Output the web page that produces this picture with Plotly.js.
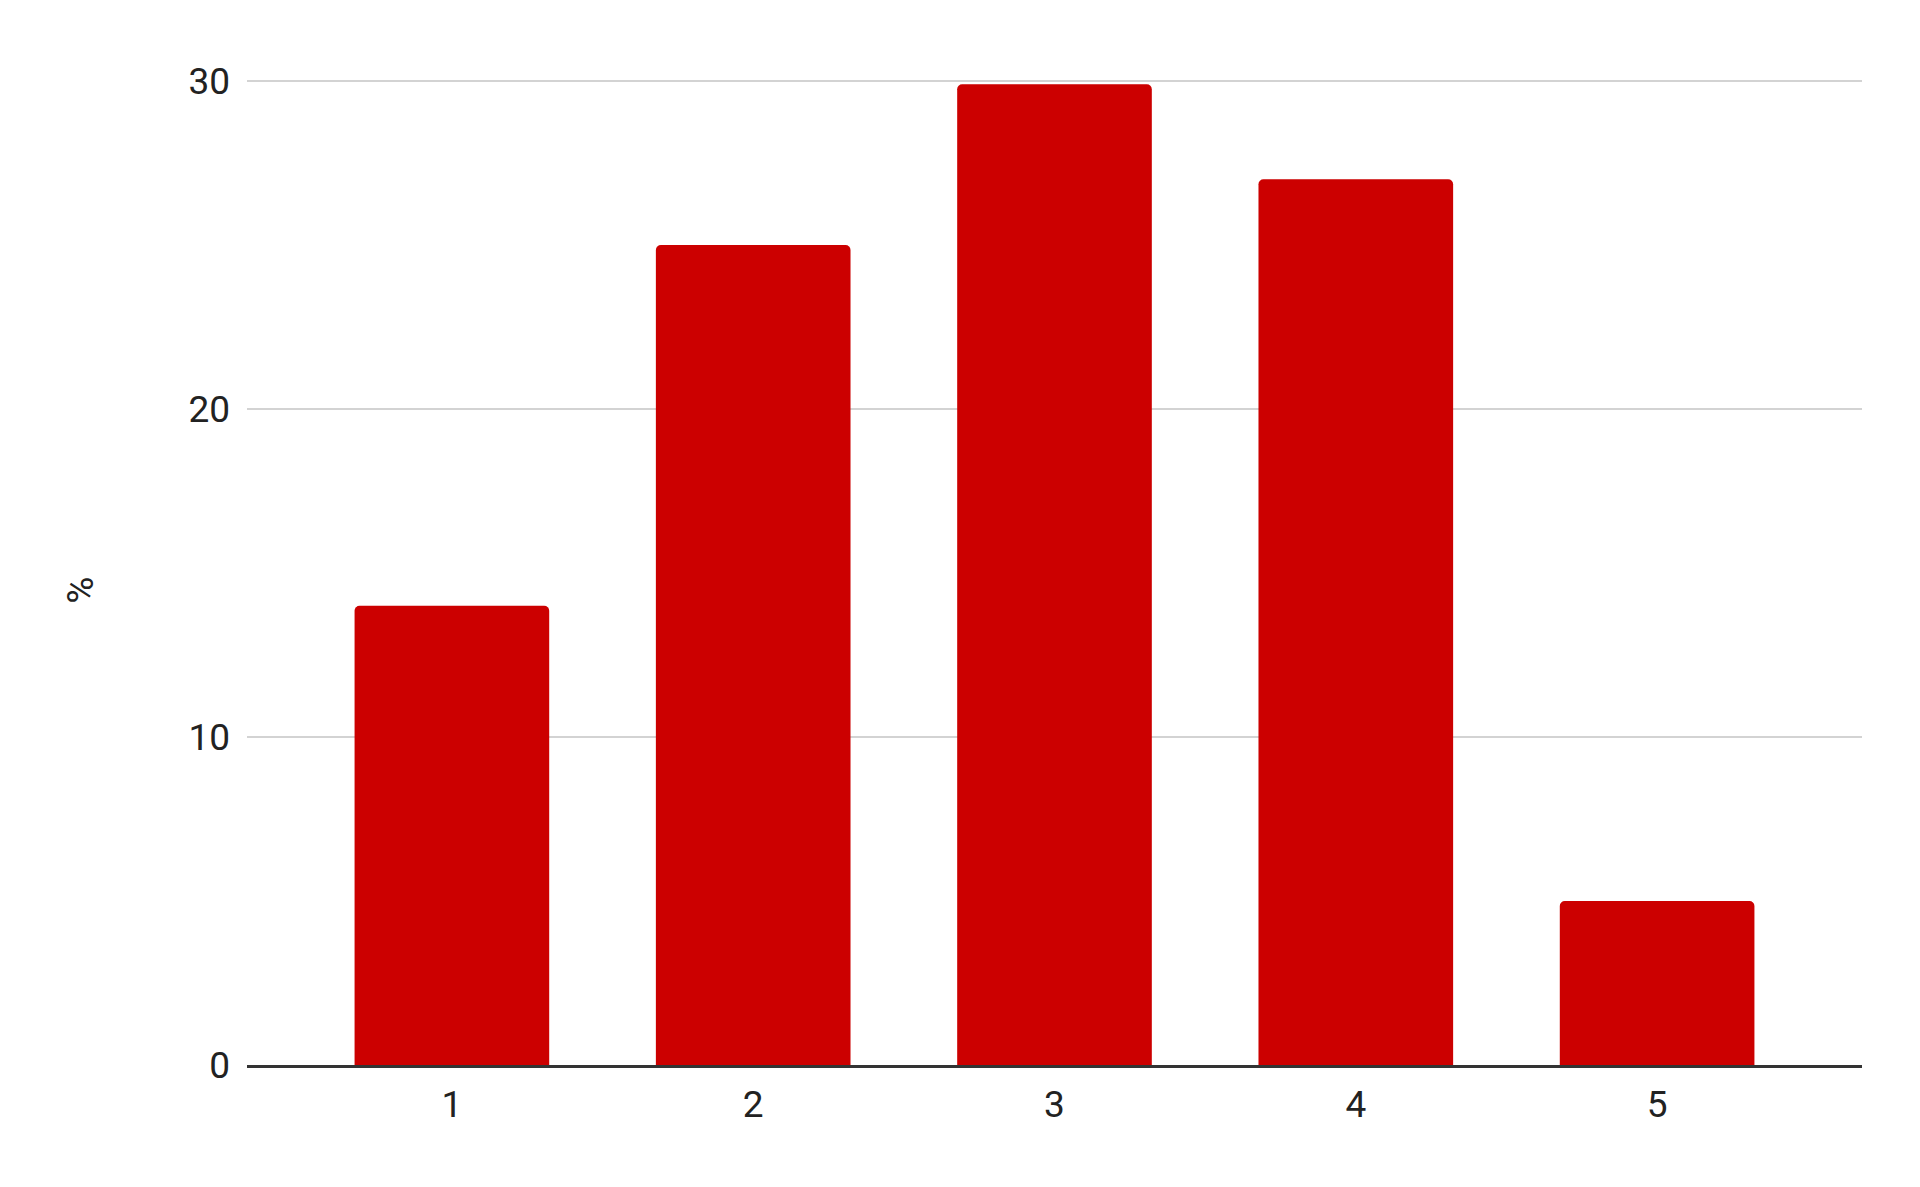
<!DOCTYPE html>
<html>
<head>
<meta charset="utf-8">
<script src="https://cdn.plot.ly/plotly-3.0.1.min.js"></script>
<style>
  html, body { margin: 0; padding: 0; background: #fff; }
  #chart { width: 1920px; height: 1187px; }
</style>
</head>
<body>
<div id="chart"></div>
<script>
// Data
const categories = ['1', '2', '3', '4', '5'];
const percentValues = [14, 25, 29.9, 27, 5];
const yTickValues = [0, 10, 20, 30];
const yTitle = '%';

const labelFont = { family: 'Roboto, sans-serif', size: 37, color: '#222' };

const traces = [{
    x: categories,
    y: percentValues,
    type: 'bar',
    marker: {
        color: '#cc0000',
        cornerradius: 5,
        line: { width: 0 }
    },
    showlegend: false,
    hoverinfo: 'none'
}];

const layout = {
    width: 1920,
    height: 1187,
    // top edge sits a hair above 30 so that grid line still gets drawn
    margin: { l: 247, r: 58, t: 77, b: 122 },
    paper_bgcolor: '#fff',
    plot_bgcolor: '#fff',
    bargap: 0.354,
    font: labelFont,
    xaxis: {
        type: 'category',
        range: [-0.68, 4.68],
        showgrid: false,
        zeroline: false,
        showline: true,
        linecolor: '#333',
        linewidth: 3,
        ticks: '',
        ticklabelstandoff: 5,
        tickfont: labelFont,
        fixedrange: true
    },
    yaxis: {
        range: [0, 30.12],
        tickmode: 'array',
        tickvals: yTickValues,
        showgrid: true,
        gridcolor: '#d3d3d3',
        gridwidth: 2,
        zeroline: false,
        showline: false,
        ticks: '',
        ticklabelstandoff: 16,
        tickfont: labelFont,
        fixedrange: true
    },
    annotations: [{
        text: yTitle,
        xref: 'paper',
        yref: 'paper',
        x: (81 - 247) / 1615,
        y: 0.48,
        xanchor: 'center',
        yanchor: 'middle',
        textangle: -90,
        showarrow: false,
        font: labelFont
    }]
};

const config = { displayModeBar: false, staticPlot: true };

Plotly.newPlot('chart', traces, layout, config);
</script>
</body>
</html>
